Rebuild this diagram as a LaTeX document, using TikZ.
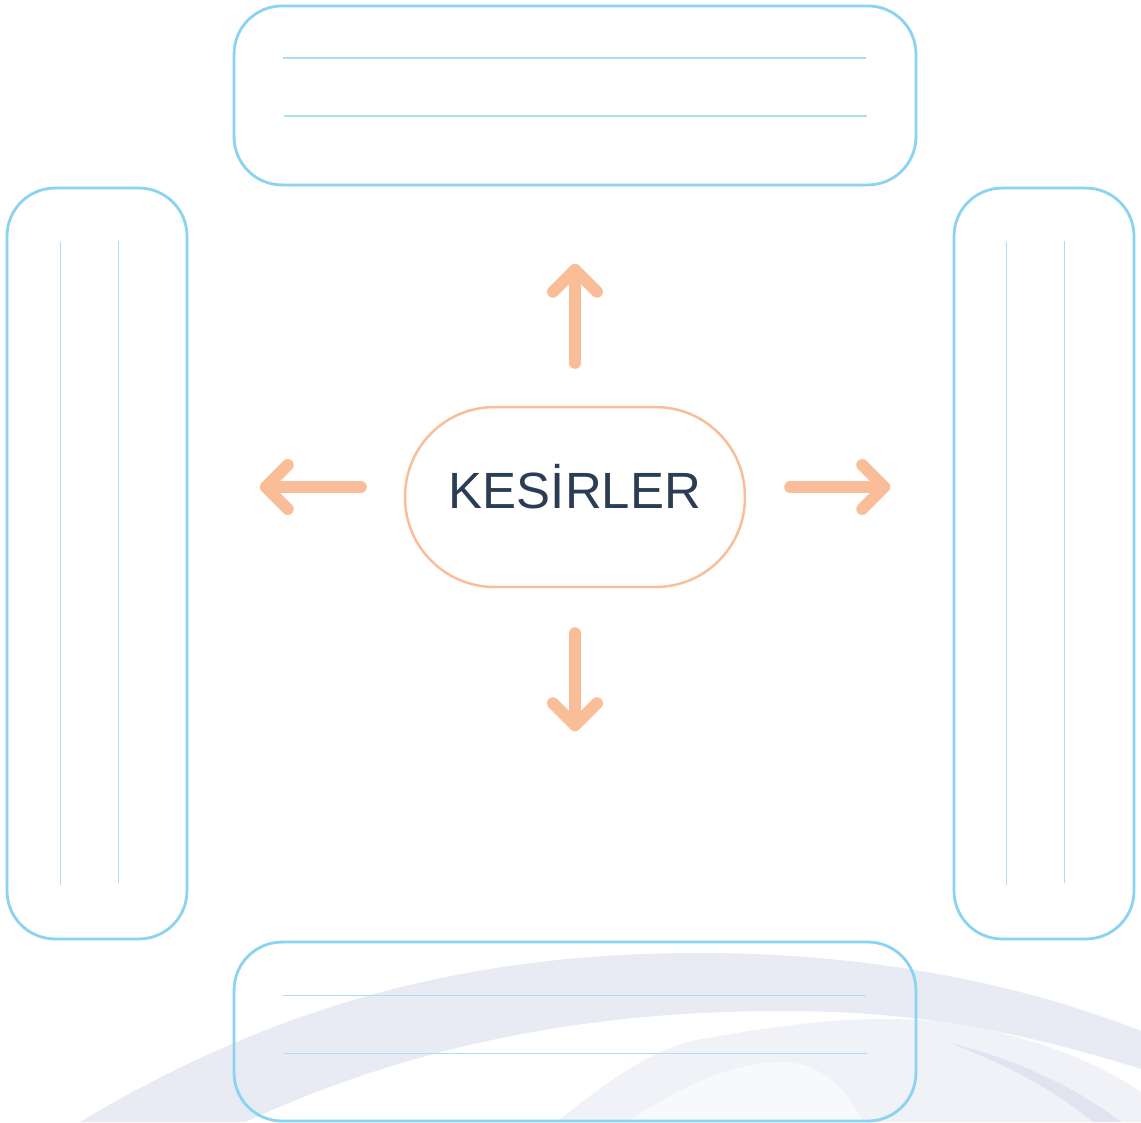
\documentclass[tikz,border=0pt]{standalone}
\usepackage{fontspec}
\setmainfont{Liberation Sans}
\usetikzlibrary{positioning, arrows.meta, calc}

\definecolor{frameblue}{HTML}{8AD4F2}
\definecolor{ruleblue}{HTML}{A9DEF4}
\definecolor{peach}{HTML}{F9BD97}
\definecolor{inkblue}{HTML}{2B3D54}
\definecolor{waveA}{HTML}{E8EAF4}
\definecolor{waveB}{HTML}{F1F2F8}
\definecolor{waveC}{HTML}{F8F9FB}
\definecolor{waveD}{HTML}{E1E3F0}

\begin{document}
\begin{tikzpicture}[
	x=0.02cm, y=-0.02cm,
	% --- Styles ---
	panel/.style={
		rectangle, draw=frameblue, line width=1.6pt, rounded corners=0.96cm, inner sep=0pt
	},
	widepanel/.style={
		panel, minimum width=13.64cm, minimum height=3.58cm
	},
	tallpanel/.style={
		panel, minimum width=3.6cm, minimum height=15.02cm
	},
	rule/.style={
		draw=ruleblue, line width=0.7pt
	},
	% Pill for the topic
	pill/.style={
		rectangle, draw=peach, line width=1.4pt, rounded corners=1.79cm,
		minimum width=6.8cm, minimum height=3.6cm, inner sep=0pt,
		font=\fontsize{29}{34}\selectfont, text=inkblue, text height=0.44cm, text depth=0pt
	},
	flow/.style={
		draw=peach, line width=6.8pt, line cap=round, line join=round,
		arrows={-Straight Barb[length=0.44cm, width=0.88cm, round]}
	}
	]
	
	% --- 0. Canvas ---
	\fill [white] (0,0) rectangle (1141,1122);
	\useasboundingbox (0,0) rectangle (1141,1122);
	
	% --- 1. Background waves (bottom) ---
	\fill [waveA] (80,1122) .. controls (300,990) and (500,953) .. (700,953)
		.. controls (900,953) and (1050,995) .. (1141,1031) -- (1141,1069)
		.. controls (1000,1025) and (900,1011) .. (780,1011)
		.. controls (550,1011) and (380,1060) .. (245,1122) -- cycle;
	\fill [waveB] (557,1122) .. controls (620,1070) and (660,1048) .. (696,1040)
		.. controls (780,1025) and (830,1019) .. (888,1019)
		.. controls (980,1019) and (1080,1050) .. (1141,1092) -- (1141,1122) -- cycle;
	\fill [waveC] (627,1122) .. controls (690,1080) and (740,1062) .. (782,1062)
		.. controls (820,1062) and (850,1090) .. (862,1122) -- cycle;
	\fill [waveD] (950,1043) .. controls (1020,1070) and (1060,1095) .. (1093,1122)
		-- (1121,1122) .. controls (1080,1090) and (1020,1060) .. (950,1043) -- cycle;
	
	% --- 2. Topic ---
	\node [pill] (kesir) at (575,497) {KESİRLER};
	
	% --- 3. Panels round the topic ---
	\node [widepanel, above=4.39cm of kesir] (box_top) {};
	\node [widepanel, below=7.05cm of kesir] (box_bottom) {};
	\node [tallpanel] (box_left) at (97,563.5) {};
	\node [tallpanel] (box_right) at (1044,563.5) {};
	
	% Writing lines
	\draw [rule] ($(box_top.north west)+(50,53.5)$) -- ++(583,0);
	\draw [rule] ($(box_top.north west)+(51,111.5)$) -- ++(583,0);
	\draw [rule] ($(box_bottom.north west)+(50,54.5)$) -- ++(583,0);
	\draw [rule] ($(box_bottom.north west)+(51,112.5)$) -- ++(583,0);
	\draw [rule] ($(box_left.north west)+(55,55)$) -- ++(0,643);
	\draw [rule] ($(box_left.north west)+(113,54)$) -- ++(0,642);
	\draw [rule] ($(box_right.north west)+(54,55)$) -- ++(0,643);
	\draw [rule] ($(box_right.north west)+(112,54)$) -- ++(0,642);
	
	% --- 4. Arrows ---
	\draw [flow] ([shift={(0,-43)}]kesir.north) -- ([shift={(0,-142)}]kesir.north);
	\draw [flow] ([shift={(0,45)}]kesir.south) -- ([shift={(0,143)}]kesir.south);
	\draw [flow] ([shift={(-43,-10)}]kesir.west) -- ([shift={(-144,-10)}]kesir.west);
	\draw [flow] ([shift={(44,-10)}]kesir.east) -- ([shift={(144,-10)}]kesir.east);
	
\end{tikzpicture}
\end{document}
